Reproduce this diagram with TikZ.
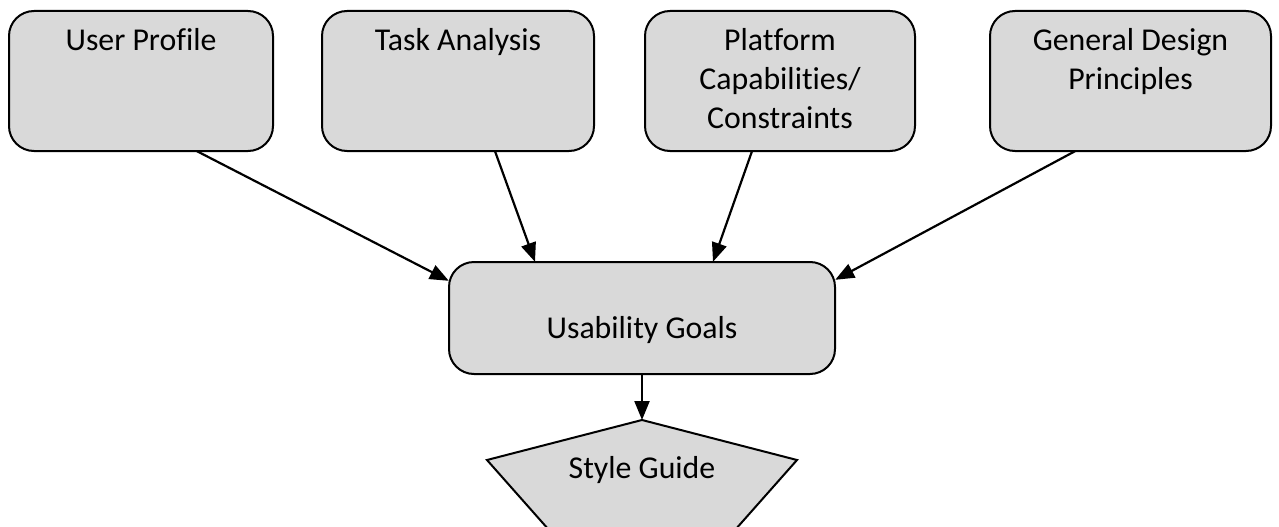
\documentclass[tikz,border=0pt]{standalone}
\usepackage{fontspec}
\setmainfont{Carlito}[Ligatures={NoCommon,NoContextual}]
\usetikzlibrary{arrows.meta,calc}
\definecolor{boxgray}{RGB}{217,217,217}
\tikzset{
  roundbox/.style={draw=black, fill=boxgray, line width=2pt, rounded corners=25pt},
  lbl/.style={inner sep=0pt, anchor=base, font=\fontsize{31.8}{38.5}\selectfont},
  link/.style={line width=2.2pt, -{Triangle[length=19pt,width=15pt]}},
}
\begin{document}
\begin{tikzpicture}[x=1pt,y=-1pt]
  \useasboundingbox (0,0) rectangle (1279,527);
  \clip (0,0) rectangle (1279,527);

  % input boxes along the top
  \path[roundbox] (9,11) rectangle (273,151);
  \path[roundbox] (322,11) rectangle (594,151);
  \path[roundbox] (645,11) rectangle (915,151);
  \path[roundbox] (990,11) rectangle (1271,151);
  \node[inner sep=0pt, minimum width=264pt, minimum height=140pt] (UP) at (141,81) {};
  \node[inner sep=0pt, minimum width=272pt, minimum height=140pt] (TA) at (458,81) {};
  \node[inner sep=0pt, minimum width=270pt, minimum height=140pt] (PC) at (780,81) {};
  \node[inner sep=0pt, minimum width=281pt, minimum height=140pt] (GD) at (1130.5,81) {};

  \node[lbl] (upt) at (141,51) {User Profile};
  \node[lbl] (tat) at (458,51) {Task Analysis};
  \node[lbl] (pct1) at (780,51) {Platform};
  \node[lbl] (pct2) at (780,89) {Capabilities/};
  \node[lbl] (pct3) at (780,128) {Constraints};
  \node[lbl] (gdt1) at (1130.5,51) {General Design};
  \node[lbl] (gdt2) at (1130.5,89) {Principles};

  % central box
  \path[roundbox] (449,262) rectangle (835,374);
  \node[inner sep=0pt, minimum width=386pt, minimum height=112pt] (UG) at (642,318) {};
  \node[lbl] (ugt) at (642,338) {Usability Goals};

  % style guide pentagon, running off the lower edge
  \coordinate (SG) at (642,420);
  \path[draw=black, fill=boxgray, line width=2pt, line join=miter]
    (SG) -- (797,460) -- (735,530) -- (549,530) -- (487,460) -- cycle;
  \node[lbl] (sgt) at (642,478) {Style Guide};

  % connectors
  \draw[link] ([xshift=56pt]UP.south) -- ([yshift=-19pt]UG.north west);
  \draw[link] ([xshift=37pt]TA.south) -- ([xshift=-107pt]UG.north);
  \draw[link] ([xshift=-28pt]PC.south) -- ([xshift=71pt]UG.north);
  \draw[link] ([xshift=-55.5pt]GD.south) -- ([yshift=-18pt]UG.north east);
  \draw[link] (UG.south) -- (SG);
\end{tikzpicture}
\end{document}
